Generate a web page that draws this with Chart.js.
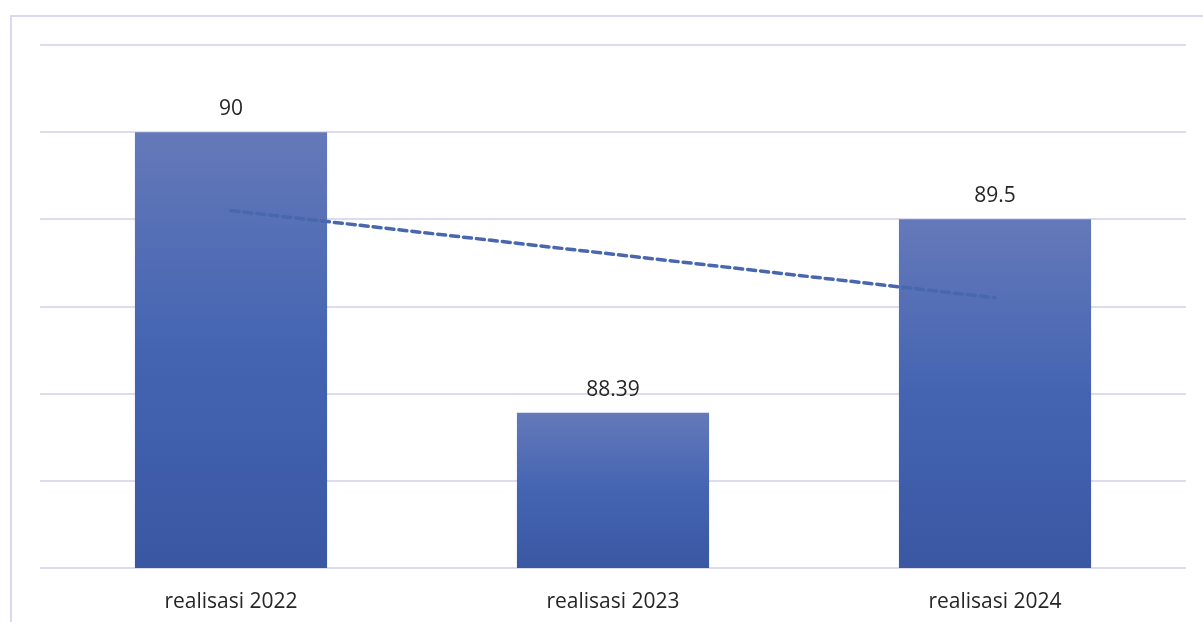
<!DOCTYPE html>
<html>
<head>
<meta charset="utf-8">
<script src="https://cdn.jsdelivr.net/npm/chart.js@4"></script>
<style>
  html, body { margin: 0; padding: 0; background: #fff; overflow: hidden; }
  #frame {
    position: absolute; left: 10px; top: 15px; width: 1300px; height: 700px;
    border: 2px solid #d9d9f0; box-sizing: border-box;
  }
  #wrap { position: absolute; left: 0; top: 0; width: 1203px; height: 622px; }
</style>
</head>
<body>
<div id="frame"></div>
<div id="wrap"><canvas id="chart" width="1203" height="622"></canvas></div>
<script>
const categories = ['realisasi 2022', 'realisasi 2023', 'realisasi 2024'];
const values = [90, 88.39, 89.5];
const trendValues = [89.55, 89.30, 89.05];

const textColor = '#262626';
const labelFont = { family: "'Open Sans'", size: 21 };

// vertical gradient per bar, from its top down to the axis base
function barGradient(context) {
  const chart = context.chart;
  const y = chart.scales.y;
  if (!y || !chart.chartArea || context.raw == null) return '#4464b2';
  const top = y.getPixelForValue(context.raw);
  const bottom = y.getPixelForValue(y.min);
  if (!isFinite(top) || !isFinite(bottom)) return '#4464b2';
  const g = chart.ctx.createLinearGradient(0, top, 0, bottom);
  g.addColorStop(0, '#6479b9');
  g.addColorStop(0.5, '#4464b2');
  g.addColorStop(1, '#3a57a2');
  return g;
}

// value labels above the bars
const valueLabels = {
  id: 'valueLabels',
  afterDatasetsDraw(chart) {
    const ctx = chart.ctx;
    const meta = chart.getDatasetMeta(1);
    ctx.save();
    ctx.font = `${labelFont.size}px ${labelFont.family}`;
    ctx.fillStyle = textColor;
    ctx.textAlign = 'center';
    ctx.textBaseline = 'alphabetic';
    meta.data.forEach((bar, i) => {
      ctx.fillText(String(values[i]), bar.x, bar.y - 17);
    });
    ctx.restore();
  }
};

new Chart(document.getElementById('chart'), {
  data: {
    labels: categories,
    datasets: [
      {
        type: 'line',
        data: trendValues,
        borderColor: '#4867ae',
        borderWidth: 3.5,
        borderDash: [8, 5],
        borderCapStyle: 'round',
        pointRadius: 0,
        fill: false,
        order: 0
      },
      {
        type: 'bar',
        data: values,
        backgroundColor: barGradient,
        barPercentage: 0.503,
        categoryPercentage: 1,
        order: 1
      }
    ]
  },
  options: {
    responsive: false,
    animation: false,
    layout: { padding: { left: 40, right: 17, top: 45, bottom: 0 } },
    plugins: {
      legend: { display: false },
      tooltip: { enabled: false }
    },
    scales: {
      x: {
        grid: { display: false, drawTicks: false },
        border: { display: false },
        ticks: { color: textColor, font: labelFont, padding: 21 },
        afterFit: s => { s.height = 54; }
      },
      y: {
        min: 87.5,
        max: 90.5,
        ticks: { display: false, stepSize: 0.5 },
        grid: { color: '#dcdcef', lineWidth: 2, drawTicks: false },
        border: { display: false },
        afterFit: s => { s.width = 0; }
      }
    }
  },
  plugins: [valueLabels]
});
</script>
</body>
</html>
